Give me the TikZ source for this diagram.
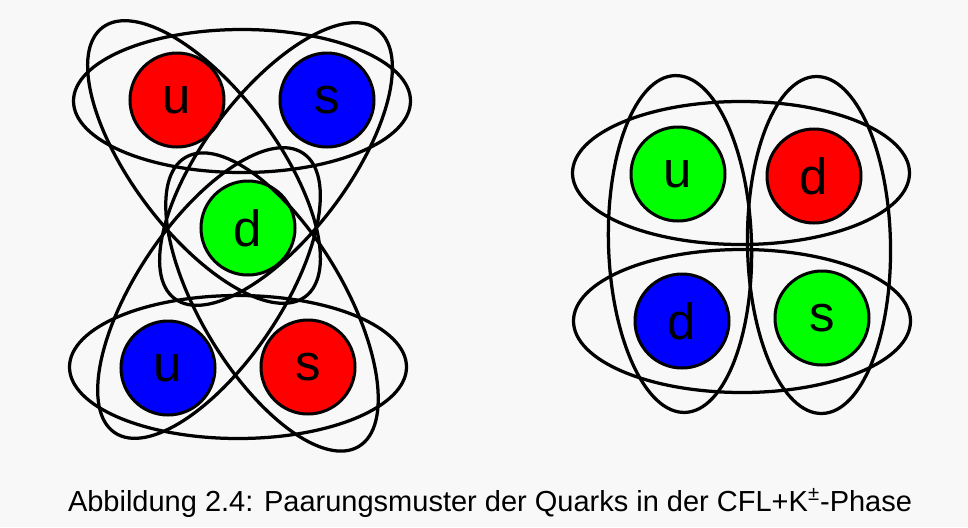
\documentclass[tikz,border=0pt]{standalone}
\usepackage{fontspec}
\setmainfont{Liberation Sans}
\usetikzlibrary{shapes.geometric}

\definecolor{paper}{RGB}{248,248,248}
\definecolor{qred}{RGB}{255,0,0}
\definecolor{qgreen}{RGB}{0,255,0}
\definecolor{qblue}{RGB}{0,0,255}

\begin{document}
\begin{tikzpicture}[x=0.2mm, y=-0.2mm,
    quark/.style={circle, draw, line width=0.6mm, minimum size=18.8mm, inner sep=0pt,
      font=\fontsize{29}{30}\selectfont},
    redq/.style={quark, fill=qred},
    greenq/.style={quark, fill=qgreen},
    blueq/.style={quark, fill=qblue},
    pairing/.style={ellipse, draw, line width=0.65mm, minimum width=67.4mm,
      minimum height=28.6mm, inner sep=0pt},
  ]
  \fill[paper] (0,0) rectangle (968,527);
  % left picture
  \node[redq] (ut) at (177,100) {u};
  \node[blueq] (st) at (327,100) {s};
  \node[greenq] (dm) at (248,228) {d};
  \node[blueq] (ub) at (168,368) {u};
  \node[redq] (sb) at (308,367) {s};
  \node[pairing] (ut-st) at (242,101) {};
  \node[pairing] (ub-sb) at (238,367) {};
  \node[pairing, rotate=-53] (ut-dm) at (204,162) {};
  \node[pairing, rotate=53] (st-dm) at (276,164) {};
  \node[pairing, rotate=56] (dm-ub) at (209,293) {};
  \node[pairing, rotate=-59] (dm-sb) at (272,302) {};
  % right picture
  \node[greenq] (ur) at (678,174) {u};
  \node[redq] (dr) at (814,176) {d};
  \node[blueq] (dl) at (682,321) {d};
  \node[greenq] (sr) at (822,318) {s};
  \node[pairing] (ur-dr) at (741,173) {};
  \node[pairing] (dl-sr) at (742,321) {};
  \node[pairing, rotate=91.7] (ur-dl) at (680,244) {};
  \node[pairing, rotate=91] (dr-sr) at (819,245) {};
  % caption
  \node[font=\fontsize{16.5}{18}\selectfont] (caption) at (490,503)
    {Abbildung 2.4: Paarungsmuster der Quarks in der CFL+K\textsuperscript{±}-Phase};
\end{tikzpicture}
\end{document}
